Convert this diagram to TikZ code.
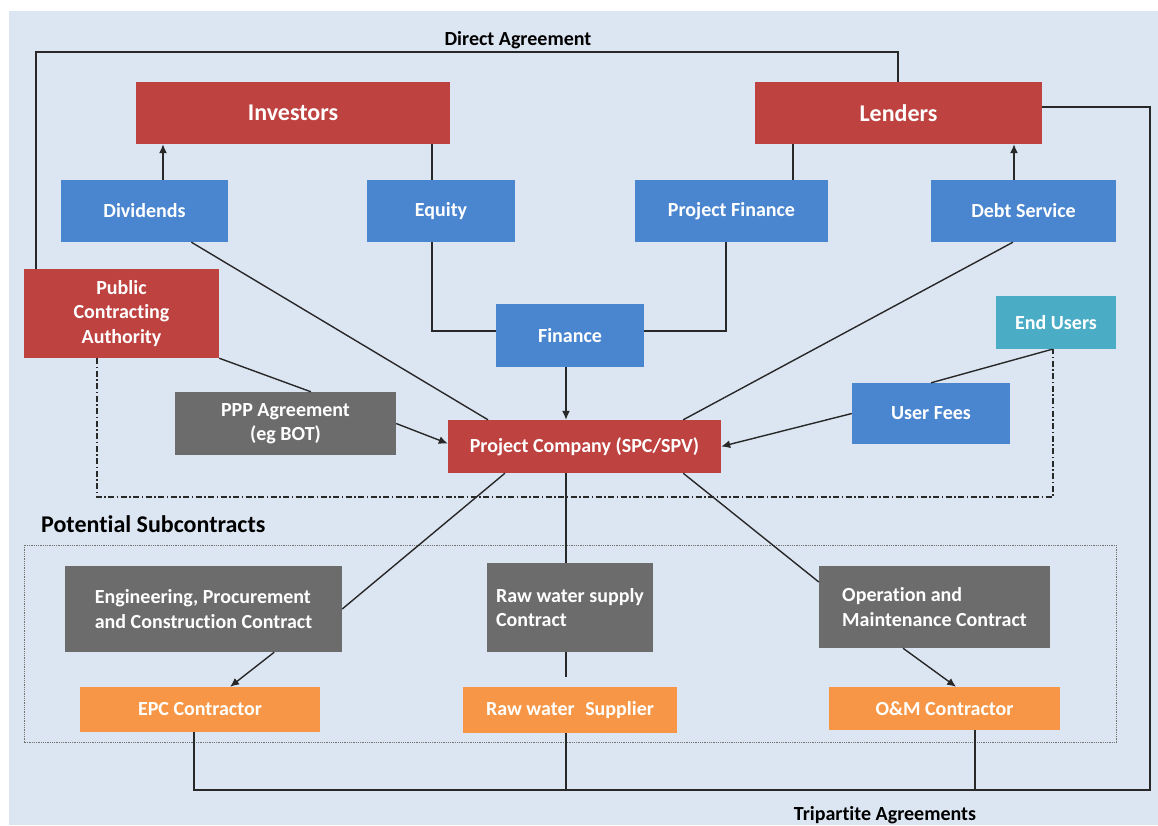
\documentclass[tikz,border=0pt]{standalone}
\usepackage{fontspec}
\setmainfont[Ligatures=NoCommon]{Carlito}
\usetikzlibrary{calc,arrows.meta}

\definecolor{panelbg}{RGB}{220,230,242}
\definecolor{boxred}{RGB}{190,66,64}
\definecolor{boxblue}{RGB}{74,134,208}
\definecolor{boxteal}{RGB}{75,172,198}
\definecolor{boxgray}{RGB}{108,108,108}
\definecolor{boxorange}{RGB}{247,150,70}
\definecolor{linecol}{RGB}{40,40,40}

\tikzset{
  wh/.style 2 args={minimum width=#1pt, minimum height=#2pt},
  box/.style={draw=none, inner sep=0pt, text=white, align=center,
              font=\fontsize{20}{24.5}\selectfont\bfseries},
  redbox/.style={box, fill=boxred},
  headbox/.style={redbox, font=\fontsize{24}{28}\selectfont\bfseries},
  bluebox/.style={box, fill=boxblue},
  tealbox/.style={box, fill=boxteal},
  graybox/.style={box, fill=boxgray},
  subbox/.style={graybox, align=left},
  orangebox/.style={box, fill=boxorange},
  labeltxt/.style={inner sep=0pt, text=black, font=\fontsize{20}{24}\selectfont\bfseries},
  conn/.style={line width=1.4pt, draw=linecol},
  arr/.style={conn, -{Latex[length=9pt,width=8pt]}},
  dashdot/.style={line width=1.1pt, draw=linecol,
                  dash pattern=on 6pt off 2.5pt on 1.5pt off 2.5pt},
  dotbox/.style={line width=0.9pt, draw=black!55, dash pattern=on 1pt off 0.8pt},
}

\begin{document}
\begin{tikzpicture}[x=1pt, y=-1pt]
  % canvas and panel
  \useasboundingbox (0,0) rectangle (1158,825);
  \fill[white] (0,0) rectangle (1158,825);
  \fill[panelbg] (9,11) rectangle (1158,825);

  % frame of the subcontract group
  \draw[dotbox] (24,545) rectangle (1116,742);

  % top tier
  \node[headbox, wh={314}{62}] (inv) at (293,113) {Investors};
  \node[headbox, wh={287}{62}] (len) at (898.5,113) {Lenders};

  % flows
  \node[bluebox, wh={167}{62}] (div) at (144.5,211) {Dividends};
  \node[bluebox, wh={148}{62}] (eq)  at (441,211) {Equity};
  \node[bluebox, wh={193}{62}] (pf)  at (731.5,211) {Project Finance};
  \node[bluebox, wh={185}{62}] (ds)  at (1023.5,211) {Debt Service};

  \node[redbox, wh={195}{89}] (pca) at (121.5,313.5) {Public\\Contracting\\Authority};
  \node[bluebox, wh={148}{63}] (fin) at (570,335.5) {Finance};
  \node[tealbox, wh={120}{53}] (eu)  at (1056,322.5) {End Users};

  \node[graybox, wh={221}{63}] (ppp) at (285.5,423.5) {PPP Agreement\\(eg BOT)};
  \node[redbox, wh={273}{53}] (pc)   at (584.5,446.5) {Project Company (SPC/SPV)};
  \node[bluebox, wh={158}{61}] (uf)  at (931,413.5) {User Fees};

  % subcontracts
  \node[labeltxt, anchor=west, font=\fontsize{24}{28}\selectfont\bfseries] (subtxt) at (41,524) {Potential Subcontracts};
  \node[subbox, wh={277}{86}] (epcc) at (203.5,609) {Engineering, Procurement\\and Construction Contract};
  \node[subbox, wh={166}{89}] (rwc)  at (570,607.5) {Raw water supply\\Contract};
  \node[subbox, wh={231}{82}] (omc)  at (934.5,607) {Operation and\\Maintenance Contract};

  \node[orangebox, wh={240}{45}] (epc) at (200,709.5) {EPC Contractor};
  \node[orangebox, wh={214}{46}] (rws) at (570,710) {Raw water\hspace{0.3em} Supplier};
  \node[orangebox, wh={231}{43}] (om)  at (944.5,708.5) {O\&M Contractor};

  % guide coordinates for straight connectors
  \coordinate (gDiv) at (163,0);
  \coordinate (gEq)  at (432,0);
  \coordinate (gPFt) at (793,0);
  \coordinate (gPFb) at (726,0);
  \coordinate (gDS)  at (1014,0);
  \coordinate (gMid) at (566,0);
  \coordinate (gOM)  at (975,0);
  \coordinate (daL)  at (36,52);
  \coordinate (daR)  at (898,52);
  \coordinate (ddL)  at (97,497);
  \coordinate (ddR)  at (1053,497);
  \coordinate (rwgap) at (566,677);
  \coordinate (tpL)  at (194,790);
  \coordinate (tpR)  at (1150,790);
  \coordinate (tpT)  at (1150,107);

  % direct agreement
  \draw[conn] (pca.north -| daL) -- (daL) -- (daR) -- (len.north -| daR);
  \node[labeltxt] (datxt) at (518,40) {Direct Agreement};

  % investors and lenders
  \draw[arr]  (div.north -| gDiv) -- (inv.south -| gDiv);
  \draw[conn] (inv.south -| gEq) -- (eq.north -| gEq);
  \draw[conn] (len.south -| gPFt) -- (pf.north -| gPFt);
  \draw[arr]  (ds.north -| gDS) -- (len.south -| gDS);

  % finance
  \draw[conn] (eq.south -| gEq) |- ([yshift=4.5pt]fin.west);
  \draw[conn] (pf.south -| gPFb) |- ([yshift=4.5pt]fin.east);
  \draw[arr]  (fin.south -| gMid) -- (pc.north -| gMid);

  % links into the project company
  \draw[conn] ($(div.south west)!.78!(div.south east)$) -- ($(pc.north west)!.147!(pc.north east)$);
  \draw[conn] ($(ds.south west)!.443!(ds.south east)$) -- ($(pc.north west)!.861!(pc.north east)$);
  \draw[conn] (pca.south east) -- ($(ppp.north west)!.615!(ppp.north east)$);
  \draw[arr]  (ppp.east) -- ([yshift=3pt]pc.west);
  \draw[conn] ($(eu.south west)!.47!(eu.south east)$) -- (uf.north);
  \draw[arr]  (uf.west) -- (pc.east);

  % public authority to end users
  \draw[dashdot] (pca.south -| ddL) -- (ddL) -- (ddR) -- (eu.south -| ddR);

  % subcontracts
  \draw[conn] ($(pc.south west)!.209!(pc.south east)$) -- (epcc.east);
  \draw[conn] (pc.south -| gMid) -- (rwc.north -| gMid);
  \draw[conn] ($(pc.south west)!.861!(pc.south east)$) -- ([yshift=25pt]omc.west);
  \draw[arr]  ($(epcc.south west)!.755!(epcc.south east)$) -- ($(epc.north west)!.625!(epc.north east)$);
  \draw[conn] (rwc.south -| gMid) -- (rwgap);
  \draw[arr]  ($(omc.south west)!.364!(omc.south east)$) -- ($(om.north west)!.55!(om.north east)$);

  % tripartite agreements
  \draw[conn] (epc.south -| tpL) -- (tpL) -- (tpR) -- (tpT) -- (len.east |- tpT);
  \draw[conn] (rws.south -| gMid) -- (gMid |- tpL);
  \draw[conn] (om.south -| gOM) -- (gOM |- tpL);
  \node[labeltxt] (tptxt) at (885,815) {Tripartite Agreements};
\end{tikzpicture}
\end{document}
